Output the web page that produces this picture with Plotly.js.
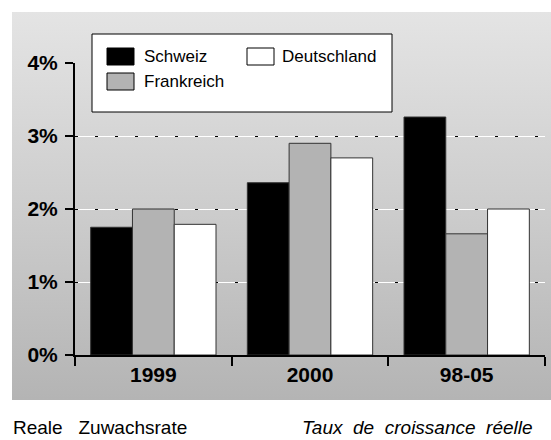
<!DOCTYPE html>
<html>
<head>
<meta charset="utf-8">
<script src="https://cdn.plot.ly/plotly-3.0.1.min.js"></script>
<style>
  html, body { margin: 0; padding: 0; background: #ffffff; }
  #wrap { position: relative; width: 551px; height: 440px; overflow: hidden; }
  #bg { position: absolute; left: 12px; top: 12px; width: 545px; height: 388px;
        background: linear-gradient(to bottom, #e4e4e4 0%, #cdcdcd 50%, #b4b4b4 100%); }
  #chart { position: absolute; left: 0; top: 0; width: 551px; height: 440px; }
</style>
</head>
<body>
<div id="wrap"><div id="bg"></div><div id="chart"></div></div>
<script>
const categories = ["1999", "2000", "98-05"];
const seriesNames = ["Schweiz", "Frankreich", "Deutschland"];
const schweiz = [1.75, 2.36, 3.26];
const frankreich = [2.0, 2.90, 1.66];
const deutschland = [1.79, 2.70, 2.0];
const tickValues = [0, 1, 2, 3, 4];
const tickLabels = ["0%", "1%", "2%", "3%", "4%"];
const captionDe = "Reale\u00a0\u00a0 Zuwachsrate";
const captionFr = "Taux\u00a0 de\u00a0 croissance\u00a0 réelle";

const seriesColors = ["#000000", "#b3b3b3", "#ffffff"];
const seriesValues = [schweiz, frankreich, deutschland];

// plot area in pixels (for placing the drawn legend box)
const M = { l: 75, r: 6, t: 63, b: 85 };
const W = 551, H = 440;
const pw = W - M.l - M.r, ph = H - M.t - M.b;
const px = v => (v - M.l) / pw;
const py = v => (H - M.b - v) / ph;

const outline = { color: "#333333", width: 1 };
const traces = seriesNames.map((n, i) => ({
  type: "bar", name: n, x: categories, y: seriesValues[i],
  marker: { color: seriesColors[i], line: outline }, showlegend: false
}));
traces.push({ type: "scatter", x: categories, y: [null, null, null], yaxis: "y2",
  showlegend: false, hoverinfo: "skip" });

const FAM = "Liberation Sans, Arial, sans-serif";
const tickFont = { family: FAM, size: 21, color: "#000000", weight: "bold" };
const legendFont = { family: FAM, size: 17, color: "#000000" };
const captionFont = { family: FAM, size: 19, color: "#000000" };

// legend entries: [swatch left, swatch top, text left]
const legendPos = [[107, 48, 142], [107, 73, 142], [247, 48, 280]];
const swW = 27, swH = 17;

const shapes = [
  { type: "rect", xref: "paper", yref: "paper", x0: px(92), x1: px(392), y0: py(112), y1: py(34),
    fillcolor: "#ffffff", line: { color: "#000000", width: 1 }, layer: "above" }
];
const annotations = [];
seriesNames.forEach((n, i) => {
  const [sx, sy, tx] = legendPos[i];
  shapes.push({ type: "rect", xref: "paper", yref: "paper",
    x0: px(sx), x1: px(sx + swW), y0: py(sy + swH), y1: py(sy),
    fillcolor: seriesColors[i], line: { color: "#000000", width: 1 }, layer: "above" });
  annotations.push({ xref: "paper", yref: "paper", x: px(tx), y: py(sy + swH / 2),
    xanchor: "left", yanchor: "middle", text: n, showarrow: false, font: legendFont });
});
annotations.push(
  { xref: "paper", yref: "paper", x: px(11), y: py(427), xanchor: "left", yanchor: "middle",
    text: captionDe, showarrow: false, font: captionFont },
  { xref: "paper", yref: "paper", x: px(300), y: py(427), xanchor: "left", yanchor: "middle",
    text: "<i>" + captionFr + "</i>", showarrow: false, font: captionFont }
);

const layout = {
  width: W, height: H,
  margin: M,
  paper_bgcolor: "rgba(0,0,0,0)",
  plot_bgcolor: "rgba(0,0,0,0)",
  barmode: "group",
  bargap: 0.2,
  bargroupgap: 0,
  showlegend: false,
  xaxis: {
    type: "category",
    showline: true, linecolor: "#000000", linewidth: 2,
    ticks: "outside", tickson: "boundaries", ticklen: 9, tickwidth: 2, tickcolor: "#000000",
    tickfont: tickFont, showgrid: false, zeroline: false, fixedrange: true
  },
  yaxis: {
    range: [0, 4], tickvals: tickValues, ticktext: tickLabels,
    showline: true, linecolor: "#000000", linewidth: 2,
    ticks: "outside", ticklen: 8, tickwidth: 2, tickcolor: "#000000",
    tickfont: tickFont, ticklabelstandoff: 3,
    showgrid: true, gridcolor: "#ffffff", gridwidth: 1, zeroline: false, fixedrange: true
  },
  yaxis2: {
    overlaying: "y", range: [0, 4], tickvals: tickValues, showticklabels: false,
    ticks: "", showline: false, zeroline: false,
    showgrid: true, gridcolor: "#000000", gridwidth: 1, griddash: "3px,17px", fixedrange: true
  },
  shapes: shapes,
  annotations: annotations
};

Plotly.newPlot("chart", traces, layout, { displayModeBar: false, staticPlot: true });
</script>
</body>
</html>
